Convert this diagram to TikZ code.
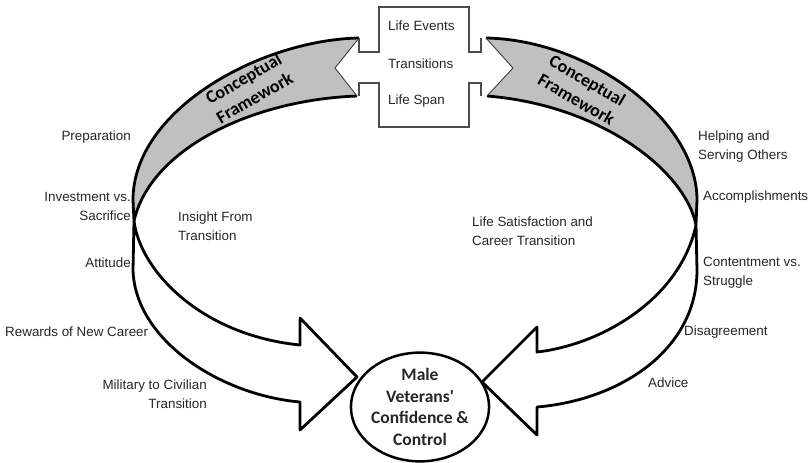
\documentclass[tikz,border=0pt]{standalone}
\usepackage{fontspec}
\setmainfont{Liberation Sans}
\newfontfamily\calfont{Carlito}
\usetikzlibrary{shapes.geometric}
\definecolor{ribbongray}{RGB}{192,192,192}
\tikzset{
  lbl/.style={inner sep=0pt, font=\fontsize{13.4}{19}\selectfont, text=black!85},
  thickline/.style={line width=2.8pt, black, line join=round},
  thinline/.style={line width=0.9pt, black!75},
  boxline/.style={line width=1.6pt, black!70, line join=miter},
  cfw/.style={inner sep=0pt, align=center, font=\calfont\bfseries\fontsize{18}{22}\selectfont},
  corebox/.style={ellipse, draw, line width=2.5pt, minimum width=126pt, minimum height=106pt, inner sep=0pt, align=center, font=\calfont\bfseries\fontsize{17.5}{21.5}\selectfont, text=black!85}
}
\begin{document}
\begin{tikzpicture}[x=1pt,y=-1pt]
\useasboundingbox (0,0) rectangle (809,463);

% central box
\draw[boxline] (359,38) -- (359,52) -- (379,52) -- (379,7) -- (469,7) -- (469,52) -- (481,52) -- (481,38);
\draw[boxline] (481,96) -- (481,83) -- (469,83) -- (469,127) -- (379,127) -- (379,83) -- (359,83) -- (359,96);
\node[lbl, anchor=west] (ev) at (388,26) {Life Events};
\node[lbl, anchor=west] (tr) at (388,64) {Transitions};
\node[lbl, anchor=west] (ls) at (388,101) {Life Span};

% left arrow
\filldraw[thickline, fill=white] (134,221) .. controls (140,270) and (200,335) .. (300,345) -- (300,318) -- (357,377) -- (300,430) -- (300,402) .. controls (220,395) and (135,340) .. (133,270) -- cycle;
% right arrow
\filldraw[thickline, fill=white] (696,225) .. controls (680,300) and (600,345) .. (537,352) -- (537,327) -- (482,382) -- (537,435) -- (537,407) .. controls (620,400) and (697,350) .. (697,270) -- cycle;

% left ribbon
\fill[ribbongray] (359,38) .. controls (260,40) and (133,110) .. (133,200) -- (134,221) .. controls (150,150) and (250,100) .. (357,96) -- (335,68) -- cycle;
\draw[thickline] (359,38) .. controls (260,40) and (133,110) .. (133,200) -- (134,221) .. controls (150,150) and (250,100) .. (357,96);
\draw[thinline] (359,38) -- (335,68) -- (357,96);
% right ribbon
\fill[ribbongray] (486,38) .. controls (590,40) and (697,120) .. (697,200) -- (696,225) .. controls (685,170) and (600,105) .. (487,96) -- (513,68) -- cycle;
\draw[thickline] (486,38) .. controls (590,40) and (697,120) .. (697,200) -- (696,225) .. controls (685,170) and (600,105) .. (487,96);
\draw[thinline] (486,38) -- (513,68) -- (487,96);

\node[cfw, rotate=30] (cfl) at (249,88) {Conceptual\\Framework};
\node[cfw, rotate=-30] (cfr) at (582,90) {Conceptual\\Framework};

% core ellipse
\node[corebox] (core) at (420,407) {Male\\Veterans'\\Confidence \&\\Control};

% left labels
\node[lbl, anchor=east] (prep) at (131,137) {Preparation};
\node[lbl, anchor=east, align=right] (inv) at (131,206) {Investment vs.\\Sacrifice};
\node[lbl, anchor=east] (att) at (131,263) {Attitude};
\node[lbl, anchor=west] (rew) at (5,332) {Rewards of New Career};
\node[lbl, anchor=east, align=right] (mil) at (207,394) {Military to Civilian\\Transition};
\node[lbl, anchor=west, align=left] (ins) at (178,226) {Insight From\\Transition};
\node[lbl, anchor=west, align=left] (lsat) at (472,231) {Life Satisfaction and\\Career Transition};
% right labels
\node[lbl, anchor=west, align=left] (help) at (698,147) {Helping and\\Serving Others};
\node[lbl, anchor=west] (acc) at (703,197) {Accomplishments};
\node[lbl, anchor=west, align=left] (cont) at (703,273) {Contentment vs.\\Struggle};
\node[lbl, anchor=west] (dis) at (684,332) {Disagreement};
\node[lbl, anchor=west] (adv) at (648,383) {Advice};
\end{tikzpicture}
\end{document}
